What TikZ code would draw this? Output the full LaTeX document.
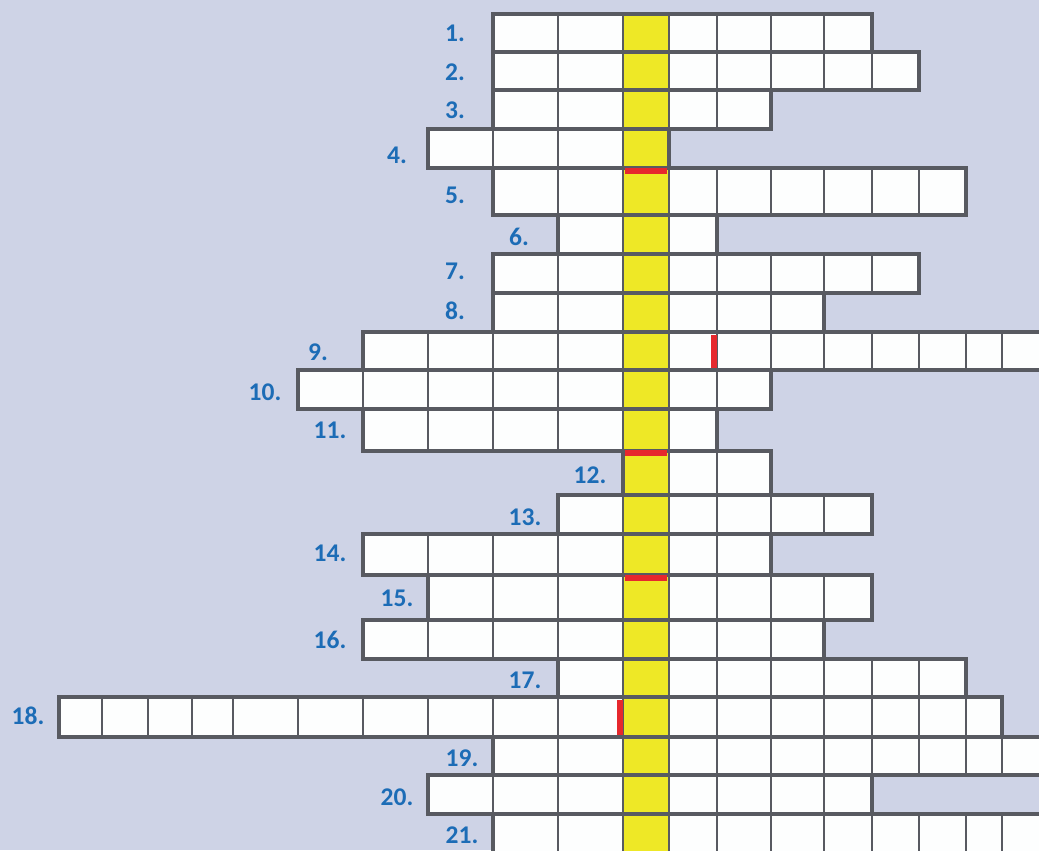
\documentclass[tikz,border=0pt]{standalone}
\usepackage{fontspec}
\setsansfont{Carlito}
\usepackage{xcolor}
\definecolor{cwback}{RGB}{206,211,230}
\definecolor{cwgrey}{RGB}{88,90,97}
\definecolor{cwyellow}{RGB}{238,232,38}
\definecolor{cwred}{RGB}{230,40,45}
\definecolor{cwblue}{RGB}{28,108,182}
\usepackage{tikz}

\begin{document}
\begin{tikzpicture}[
    x=0.02cm, y=-0.02cm,
    cellline/.style={draw=cwgrey, line width=1.3pt},
    rowframe/.style={draw=cwgrey, line width=2.4pt, line join=miter},
    redbar/.style={draw=cwred, line width=3.2pt},
    clue/.style={
      font=\sffamily\bfseries\fontsize{14.5}{15}\selectfont,
      text=cwblue, inner sep=0pt
    }
  ]

  %% Page and background
  \useasboundingbox (0,0) rectangle (1039,850);
  \clip (0,0) rectangle (1039,850);
  \fill[cwback] (0,0) rectangle (1039,850);

  %% Answer rows: top / bottom / left / right
  \foreach \rt/\rb/\rl/\rr in {
      14/52/493/872,   52/90/493/919,   90/129/493/771,
      129/168/428/669, 168/215/493/966, 215/254/558/717,
      254/293/493/919, 293/332/493/824, 332/370/363/1045,
      370/409/298/771, 409/451/363/717, 451/495/623/771,
      495/534/558/872, 534/575/363/771, 575/620/428/872,
      620/659/363/824, 659/697/558/966, 697/737/59/1002,
      737/775/493/1045, 775/814/428/872, 814/860/493/1045} {
    \fill[white!97!cwback] (\rl,\rt) rectangle (\rr,\rb);
    \fill[cwyellow] (623,\rt) rectangle (669,\rb);
    \begin{scope}
      \clip (\rl,\rt) rectangle (\rr,\rb);
      \foreach \cx in {102,148,192,233,298,363,428,493,558,623,669,717,771,824,872,919,966,1002}
        \draw[cellline] (\cx,\rt) -- (\cx,\rb);
    \end{scope}
    \draw[rowframe] (\rl,\rt) rectangle (\rr,\rb);
  }

  %% Red markers
  \draw[redbar] (625,171) -- (667,171);
  \draw[redbar] (625,453) -- (667,453);
  \draw[redbar] (625,578) -- (667,578);
  \draw[redbar] (714,335) -- (714,368);
  \draw[redbar] (620,700) -- (620,735);

  %% Clue numbers
  \node[clue] (q1)  at (455,33)  {1.};
  \node[clue] (q2)  at (455,72)  {2.};
  \node[clue] (q3)  at (455,110) {3.};
  \node[clue] (q4)  at (397,155) {4.};
  \node[clue] (q5)  at (455,195) {5.};
  \node[clue] (q6)  at (519,237) {6.};
  \node[clue] (q7)  at (455,271) {7.};
  \node[clue] (q8)  at (455,311) {8.};
  \node[clue] (q9)  at (318,352) {9.};
  \node[clue] (q10) at (265,392) {10.};
  \node[clue] (q11) at (330,430) {11.};
  \node[clue] (q12) at (590,475) {12.};
  \node[clue] (q13) at (525,517) {13.};
  \node[clue] (q14) at (330,553) {14.};
  \node[clue] (q15) at (397,598) {15.};
  \node[clue] (q16) at (330,640) {16.};
  \node[clue] (q17) at (525,680) {17.};
  \node[clue] (q18) at (28,716)  {18.};
  \node[clue] (q19) at (462,758) {19.};
  \node[clue] (q20) at (397,797) {20.};
  \node[clue] (q21) at (462,835) {21.};

\end{tikzpicture}
\end{document}
